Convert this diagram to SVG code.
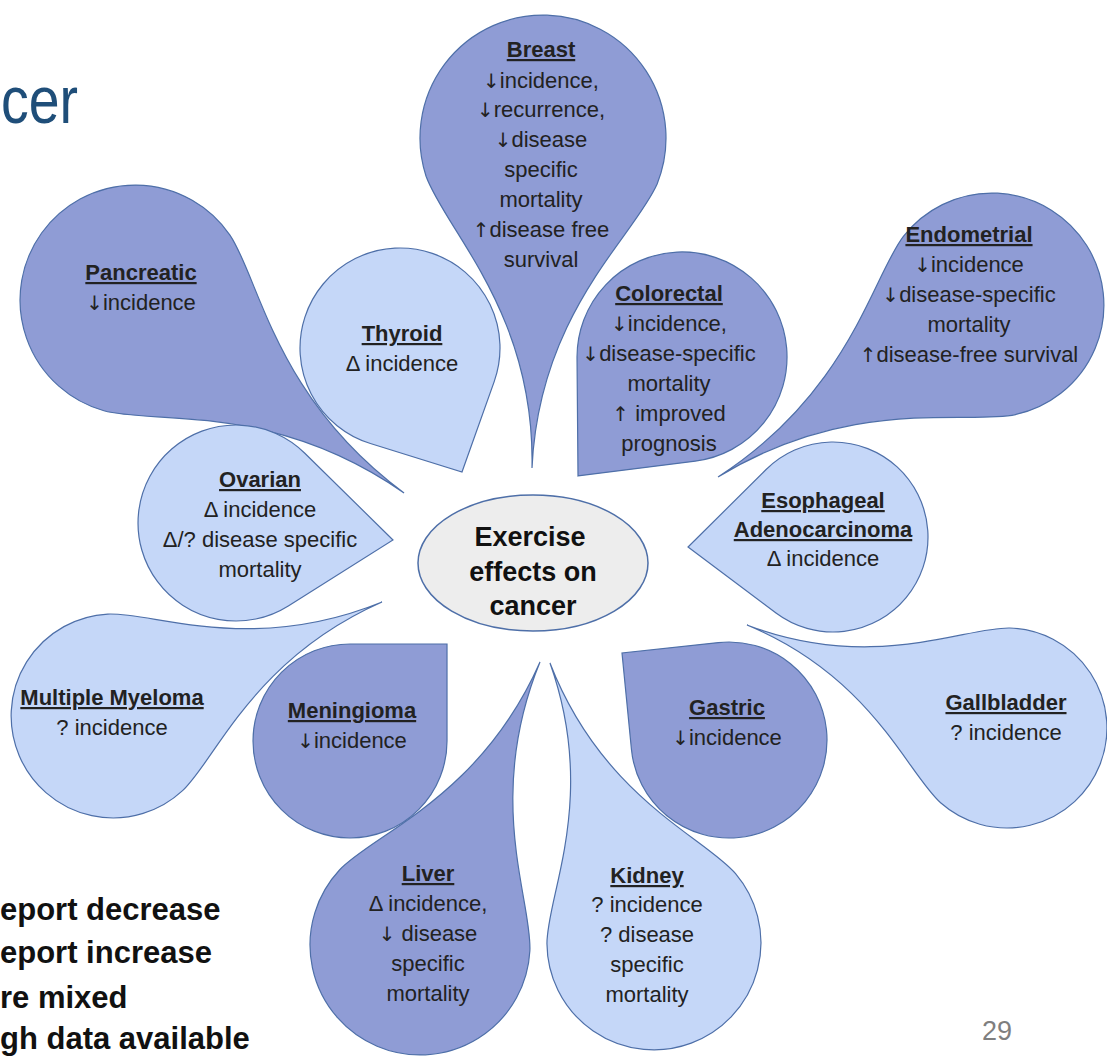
<svg xmlns="http://www.w3.org/2000/svg" width="1107" height="1056" viewBox="0 0 1107 1056">
<style>
.dk{fill:#8F9CD5;stroke:#4E6FA8;stroke-width:1.2}
.lt{fill:#C5D7F8;stroke:#4E6FA8;stroke-width:1.2}
.t{font-family:"Liberation Sans",Arial,sans-serif;font-size:22px;fill:#222;text-anchor:middle}
.h{font-weight:bold;text-decoration:underline}
.ar{font-family:"DejaVu Sans",sans-serif;font-size:20px}
.leg{font-family:"Liberation Sans",Arial,sans-serif;font-size:31px;font-weight:bold;fill:#111}
</style>
<rect width="1107" height="1056" fill="#fff"/>
<text x="1" y="123" font-family="Liberation Sans,Arial,sans-serif" font-size="66" fill="#1F4E79" textLength="77" lengthAdjust="spacingAndGlyphs">cer</text>

<g id="pancreatic">
<path class="dk" transform="translate(135,300) rotate(-54.35)" d="M0,331.1 C2,170.6 90.4,87.9 108.1,39.3 A115,115 0 1 0 -108.1,39.3 C-90.4,87.9 -2,170.6 0,331.1Z"/>
<text class="t"><tspan class="h" x="141" y="280">Pancreatic</tspan><tspan x="141" y="310"><tspan class="ar">↓</tspan>incidence</tspan></text>
</g>
<g id="thyroid">
<path class="lt" transform="translate(400,348) rotate(-26.57)" d="M0,138.6 L69.2,72.2 A100,100 0 1 0 -69.2,72.2Z"/>
<text class="t"><tspan class="h" x="402" y="341">Thyroid</tspan><tspan x="402" y="371">Δ incidence</tspan></text>
</g>
<g id="breast">
<path class="dk" transform="translate(543,138) rotate(1.91)" d="M0,330.2 C2,175 94,96 115.6,42.1 A123,123 0 1 0 -115.6,42.1 C-94,96 -2,175 0,330.2Z"/>
<text class="t"><tspan class="h" x="541" y="57">Breast</tspan><tspan x="541" y="88"><tspan class="ar">↓</tspan>incidence,</tspan><tspan x="541" y="117"><tspan class="ar">↓</tspan>recurrence,</tspan><tspan x="541" y="147"><tspan class="ar">↓</tspan>disease</tspan><tspan x="541" y="177">specific</tspan><tspan x="541" y="207">mortality</tspan><tspan x="541" y="237"><tspan class="ar">↑</tspan>disease free</tspan><tspan x="541" y="267">survival</tspan></text>
</g>
<g id="colorectal">
<path class="dk" transform="translate(682,357) rotate(41.16)" d="M0,158 L78.5,69.7 A105,105 0 1 0 -78.5,69.7Z"/>
<text class="t"><tspan class="h" x="669" y="301">Colorectal</tspan><tspan x="669" y="331"><tspan class="ar">↓</tspan>incidence,</tspan><tspan x="669" y="361"><tspan class="ar">↓</tspan>disease-specific</tspan><tspan x="669" y="391">mortality</tspan><tspan x="669" y="421"><tspan class="ar">↑</tspan> improved</tspan><tspan x="669" y="451">prognosis</tspan></text>
</g>
<g id="endometrial">
<path class="dk" transform="translate(992,305) rotate(57.88)" d="M0,323.5 C2,166.6 88.1,85.7 105.3,38.3 A112,112 0 1 0 -105.3,38.3 C-88.1,85.7 -2,166.6 0,323.5Z"/>
<text class="t"><tspan class="h" x="969" y="242">Endometrial</tspan><tspan x="969" y="272"><tspan class="ar">↓</tspan>incidence</tspan><tspan x="969" y="302"><tspan class="ar">↓</tspan>disease-specific</tspan><tspan x="969" y="332">mortality</tspan><tspan x="969" y="362"><tspan class="ar">↑</tspan>disease-free survival</tspan></text>
</g>
<g id="ovarian">
<path class="lt" transform="translate(236,523) rotate(-83.82)" d="M0,157.9 L76.8,60.9 A98,98 0 1 0 -76.8,60.9Z"/>
<text class="t"><tspan class="h" x="260" y="487">Ovarian</tspan><tspan x="260" y="517">Δ incidence</tspan><tspan x="260" y="547">Δ/? disease specific</tspan><tspan x="260" y="577">mortality</tspan></text>
</g>
<g id="esophageal">
<path class="lt" transform="translate(833,537) rotate(86.05)" d="M0,145.3 L71.9,62.1 A95,95 0 1 0 -71.9,62.1Z"/>
<text class="t"><tspan class="h" x="823" y="508">Esophageal</tspan><tspan class="h" x="823" y="537">Adenocarcinoma</tspan><tspan x="823" y="566">Δ incidence</tspan></text>
</g>
<g id="multiple-myeloma">
<path class="lt" transform="translate(113,716) rotate(-112.97)" d="M0,292.2 C2,150.7 80.2,78 95.9,34.9 A102,102 0 1 0 -95.9,34.9 C-80.2,78 -2,150.7 0,292.2Z"/>
<text class="t"><tspan class="h" x="112" y="705">Multiple Myeloma</tspan><tspan x="112" y="735">? incidence</tspan></text>
</g>
<g id="meningioma">
<path class="dk" transform="translate(350,741) rotate(-135)" d="M0,137.2 L68.6,68.6 A97,97 0 1 0 -68.6,68.6Z"/>
<text class="t"><tspan class="h" x="352" y="718">Meningioma</tspan><tspan x="352" y="748"><tspan class="ar">↓</tspan>incidence</tspan></text>
</g>
<g id="gastric">
<path class="dk" transform="translate(729,740) rotate(129.11)" d="M0,137.9 L68.9,69.7 A98,98 0 1 0 -68.9,69.7Z"/>
<text class="t"><tspan class="h" x="727" y="715">Gastric</tspan><tspan x="727" y="745"><tspan class="ar">↓</tspan>incidence</tspan></text>
</g>
<g id="gallbladder">
<path class="lt" transform="translate(1007,728) rotate(111.61)" d="M0,279.7 C2,144.7 78.6,76.5 94,34.2 A100,100 0 1 0 -94,34.2 C-78.6,76.5 -2,144.7 0,279.7Z"/>
<text class="t"><tspan class="h" x="1006" y="710">Gallbladder</tspan><tspan x="1006" y="740">? incidence</tspan></text>
</g>
<g id="liver">
<path class="dk" transform="translate(420,945) rotate(-157.02)" d="M0,307.4 C2,159 86.5,84.1 103.4,37.6 A110,110 0 1 0 -103.4,37.6 C-86.5,84.1 -2,159 0,307.4Z"/>
<text class="t"><tspan class="h" x="428" y="881">Liver</tspan><tspan x="428" y="911">Δ incidence,</tspan><tspan x="428" y="941"><tspan class="ar">↓</tspan> disease</tspan><tspan x="428" y="971">specific</tspan><tspan x="428" y="1001">mortality</tspan></text>
</g>
<g id="kidney">
<path class="lt" transform="translate(654,943) rotate(159.62)" d="M0,298.7 C2,154.5 84.1,81.9 100.6,36.6 A107,107 0 1 0 -100.6,36.6 C-84.1,81.9 -2,154.5 0,298.7Z"/>
<text class="t"><tspan class="h" x="647" y="883">Kidney</tspan><tspan x="647" y="912">? incidence</tspan><tspan x="647" y="942">? disease</tspan><tspan x="647" y="972">specific</tspan><tspan x="647" y="1002">mortality</tspan></text>
</g>
<g id="center">
<ellipse cx="533" cy="563" rx="115" ry="68" fill="#EDEDED" stroke="#4E6FA8" stroke-width="1.5"/>
<text font-family="Liberation Sans,Arial,sans-serif" font-size="27" font-weight="bold" fill="#111" text-anchor="middle"><tspan x="530" y="546">Exercise</tspan><tspan x="533" y="581">effects on</tspan><tspan x="533" y="615">cancer</tspan></text>
</g>
<g id="connectors"/>
<g id="legend">
<text class="leg" x="0" y="920">eport decrease</text>
<text class="leg" x="0" y="963">eport increase</text>
<text class="leg" x="0" y="1008">re mixed</text>
<text class="leg" x="0" y="1049">gh data available</text>
</g>
<text x="997" y="1040" font-family="Liberation Sans,Arial,sans-serif" font-size="27" fill="#7F7F7F" text-anchor="middle">29</text>
</svg>
